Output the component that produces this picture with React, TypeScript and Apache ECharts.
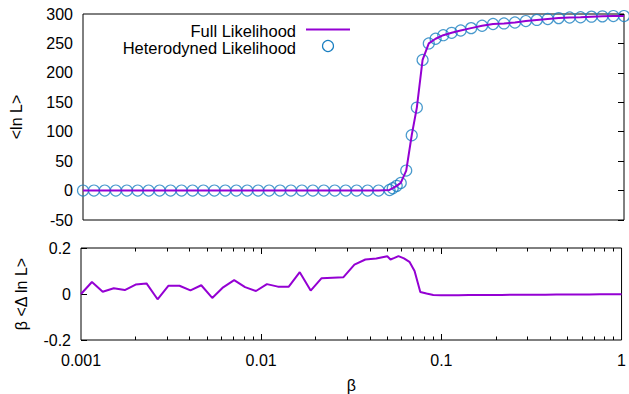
import React, { useEffect, useRef } from "react";
import * as echarts from "echarts";

// beta sample points
const beta = [
  0.001, 0.00115, 0.00132, 0.00152, 0.00175, 0.00201, 0.00231, 0.00266, 0.00306, 0.00352,
  0.00405, 0.00465, 0.00535, 0.00615, 0.00708, 0.00814, 0.00936, 0.01076, 0.01238, 0.01423,
  0.01637, 0.01882, 0.02165, 0.0249, 0.02863, 0.03292, 0.03786, 0.04354, 0.0501, 0.0522,
  0.0549, 0.0578, 0.062, 0.0665, 0.071, 0.0764, 0.0827, 0.0902, 0.0995, 0.1107,
  0.1243, 0.142, 0.1633, 0.1878, 0.216, 0.2484, 0.2856, 0.3284, 0.3777, 0.4343,
  0.4994, 0.5741, 0.6602, 0.7591, 0.873, 1.0,
];

// <ln L> full likelihood (line)
const fullLnL = [
  0, 0, 0, 0, 0, 0, 0, 0, 0, 0,
  0, 0, 0, 0, 0, 0, 0, 0, 0, 0,
  0, 0, 0, 0, 0, 0, 0, 0, 1, 4,
  8, 13, 34, 94, 141, 222, 250, 258, 264, 268,
  272, 276, 280, 283, 284, 285.5, 288, 290, 291.5, 293,
  294, 294.5, 295.5, 296, 296.5, 296.5,
];

// <ln L> heterodyned likelihood (circles)
const hetLnL = [
  0, 0, 0, 0, 0, 0, 0, 0, 0, 0,
  0, 0, 0, 0, 0, 0, 0, 0, 0, 0,
  0, 0, 0, 0, 0, 0, 0, 0, 1, 4,
  8, 13, 34, 94, 141, 222, 250, 258, 264, 268,
  272, 276, 280, 283, 284, 285.5, 288, 290, 291.5, 293,
  294, 294.5, 295.5, 296, 296.5, 296.5,
];

// beta <Delta ln L>
const betaDelta = [
  0.0, 0.052, 0.01, 0.025, 0.017, 0.041, 0.046, -0.023, 0.036, 0.036,
  0.016, 0.038, -0.017, 0.029, 0.06, 0.03, 0.013, 0.043, 0.032, 0.032,
  0.095, 0.015, 0.069, 0.071, 0.073, 0.128, 0.15, 0.154, 0.164, 0.15,
  0.157, 0.165, 0.155, 0.14, 0.1, 0.009, 0.002, -0.004, -0.005, -0.005,
  -0.005, -0.0045, -0.0045, -0.004, -0.004, -0.0035, -0.0035, -0.003, -0.003, -0.0025,
  -0.0025, -0.002, -0.002, -0.0015, -0.0015, -0.001,
];

const topTicks = [-50, 0, 50, 100, 150, 200, 250, 300];
const bottomTicks = [-0.2, 0, 0.2];
const decades = [0.001, 0.01, 0.1, 1];

const PURPLE = "#9400d3";
const BLUE = "#1a7fc1";
const FONT = "Liberation Sans, Arial, Helvetica, sans-serif";

export default function App() {
  const ref = useRef<HTMLDivElement>(null);
  useEffect(() => {
    if (!ref.current) return;
    const chart = echarts.init(ref.current, null, { renderer: "svg" });

    // tick marks of the log axis: [value, 0, length]
    const tickItems: number[][] = [];
    for (let i = 0; i < decades.length - 1; i++) {
      if (i > 0) tickItems.push([decades[i], 0, 6]);
      for (let m = 2; m <= 9; m++) tickItems.push([+(decades[i] * m).toPrecision(3), 0, 3.5]);
    }

    const G1 = { left: 81, top: 14, width: 543, height: 206 };
    const G2 = { left: 81, top: 248, width: 543, height: 93 };

    const fmtX = (v: number) => String(+(+v).toPrecision(3));
    const tick = (len: number) => ({ show: true, inside: true, length: len, lineStyle: { color: "#000", width: 1 } });
    const noLine = { show: false, onZero: false };

    const option: any = {
      animation: false,
      textStyle: { fontFamily: FONT, color: "#000" },
      grid: [
        { ...G1, show: true, borderColor: "#000", borderWidth: 1, backgroundColor: "transparent" },
        { ...G2, show: true, borderColor: "#000", borderWidth: 1, backgroundColor: "transparent" },
      ],
      xAxis: [
        {
          gridIndex: 0, type: "log", logBase: 10, min: 0.001, max: 1,
          axisLine: noLine, axisTick: { show: false }, axisLabel: { show: false },
          splitLine: { show: false },
        },
        {
          gridIndex: 1, type: "log", logBase: 10, min: 0.001, max: 1, position: "bottom",
          axisLine: noLine,
          axisTick: { show: false },
          axisLabel: { show: true, fontSize: 16, color: "#000", margin: 12, formatter: fmtX, fontFamily: FONT },
          splitLine: { show: false },
          name: "β", nameLocation: "middle", nameGap: 37,
          nameTextStyle: { fontSize: 16, color: "#000", fontFamily: FONT },
        },
      ],
      yAxis: [
        {
          gridIndex: 0, type: "value", min: topTicks[0], max: topTicks[topTicks.length - 1], interval: 50,
          axisLine: noLine, axisTick: { show: false }, splitLine: { show: false },
          axisLabel: { fontSize: 16, color: "#000", margin: 10, fontFamily: FONT },
          name: "<ln L>", nameLocation: "middle", nameGap: 59, nameRotate: 90,
          nameTextStyle: { fontSize: 16, color: "#000", fontFamily: FONT },
        },
        {
          gridIndex: 0, type: "value", position: "right", min: -50, max: 300, interval: 50,
          axisLine: noLine,
          axisTick: tick(6),
          axisLabel: { show: false }, splitLine: { show: false },
        },
        {
          gridIndex: 1, type: "value", min: bottomTicks[0], max: bottomTicks[bottomTicks.length - 1], interval: 0.2,
          axisLine: noLine,
          axisTick: tick(6),
          splitLine: { show: false },
          axisLabel: { fontSize: 16, color: "#000", margin: 10, fontFamily: FONT,
            formatter: (v: number) => String(+(+v).toFixed(2)) },
          name: "β <Δ ln L>", nameLocation: "middle", nameGap: 52, nameRotate: 90,
          nameTextStyle: { fontSize: 16, color: "#000", fontFamily: FONT },
        },
      ],
      series: [
        {
          name: "Full Likelihood", type: "line", xAxisIndex: 0, yAxisIndex: 0,
          data: beta.map((b, i) => [b, fullLnL[i]]),
          showSymbol: false, symbol: "none",
          lineStyle: { color: PURPLE, width: 2 }, itemStyle: { color: PURPLE },
        },
        {
          name: "Heterodyned Likelihood", type: "scatter", xAxisIndex: 0, yAxisIndex: 0,
          data: beta.map((b, i) => [b, hetLnL[i]]),
          symbol: "circle", symbolSize: 11, clip: false,
          itemStyle: { color: "rgba(0,0,0,0)", borderColor: BLUE, borderWidth: 1.2 },
        },
        {
          name: "diff", type: "line", xAxisIndex: 1, yAxisIndex: 2,
          data: beta.map((b, i) => [b, betaDelta[i]]),
          showSymbol: false, symbol: "none",
          lineStyle: { color: PURPLE, width: 2 },
        },
        {
          name: "xticks", type: "custom", xAxisIndex: 1, yAxisIndex: 2, silent: true,
          data: tickItems,
          encode: { x: 0, y: 1 },
          renderItem: (params: any, api: any) => {
            const x = Math.round(api.coord([api.value(0), 0])[0]) + 0.5;
            const len = api.value(2);
            const cs = params.coordSys;
            const top = cs.y;
            const bottom = cs.y + cs.height;
            const st = { stroke: "#000", lineWidth: 1 };
            return {
              type: "group",
              children: [
                { type: "line", shape: { x1: x, y1: bottom, x2: x, y2: bottom - len }, style: st },
                { type: "line", shape: { x1: x, y1: top, x2: x, y2: top + len }, style: st },
              ],
            };
          },
        },
      ],
      graphic: [
        {
          type: "text", x: 296, y: 30.5,
          style: { text: "Full Likelihood", font: `16.5px ${FONT}`, fill: "#000",
            textAlign: "right", textVerticalAlign: "middle" },
        },
        {
          type: "line", shape: { x1: 306, y1: 29.5, x2: 350, y2: 29.5 },
          style: { stroke: PURPLE, lineWidth: 2 },
        },
        {
          type: "text", x: 296, y: 47.5,
          style: { text: "Heterodyned Likelihood", font: `16.5px ${FONT}`, fill: "#000",
            textAlign: "right", textVerticalAlign: "middle" },
        },
        {
          type: "circle", shape: { cx: 328, cy: 46, r: 5.5 },
          style: { fill: "none", stroke: BLUE, lineWidth: 1.2 },
        },
      ],
    };
    chart.setOption(option);
    return () => chart.dispose();
  }, []);
  return (
    <div
      ref={ref}
      style={{ position: "fixed", left: 0, top: 0, width: 629, height: 394, background: "#fff" }}
    />
  );
}
